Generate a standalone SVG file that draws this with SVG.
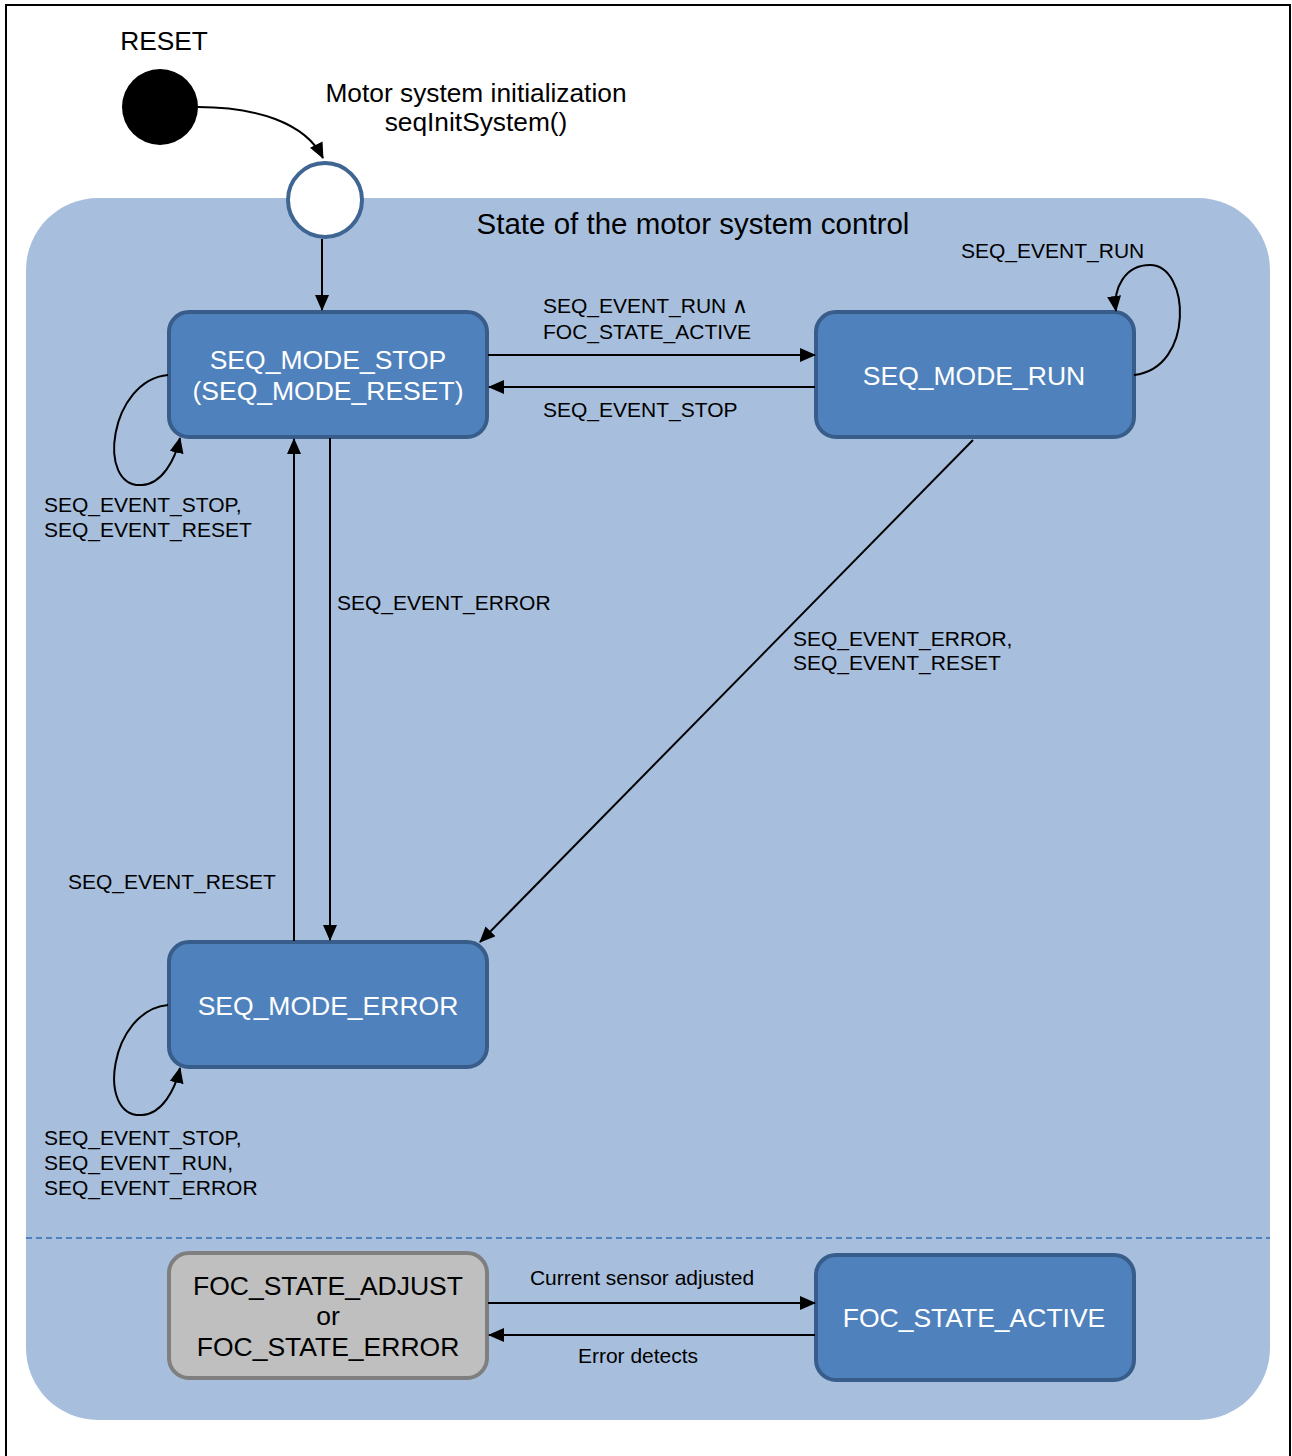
<svg xmlns="http://www.w3.org/2000/svg" width="1292" height="1456" viewBox="0 0 1292 1456">
<style>
text{font-family:"Liberation Sans",Arial,sans-serif;}
.lbl{font-size:21px;fill:#000;}
.big{font-size:26.3px;fill:#000;}
.node{fill:#4f81bd;stroke:#385d8a;stroke-width:4;}
.gnode{fill:#bfbfbf;stroke:#7f7f7f;stroke-width:4;}
.nt{font-size:26.5px;fill:#fff;text-anchor:middle;}
.gt{font-size:26.5px;fill:#000;text-anchor:middle;}
.e{fill:none;stroke:#000;stroke-width:2;marker-end:url(#ah);}
</style>
<defs>
<marker id="ah" markerUnits="userSpaceOnUse" markerWidth="16" markerHeight="14" refX="15" refY="7" orient="auto">
<path d="M0,0 L16,7 L0,14 Z" fill="#000"/>
</marker>
</defs>
<rect x="6" y="5" width="1284" height="1462" fill="#fff" stroke="#000" stroke-width="2"/>
<g id="container">
<rect x="26" y="198" width="1244" height="1222" rx="72" ry="72" fill="#a7bfdd"/>
<text x="693" y="234" text-anchor="middle" style="font-size:29.5px">State of the motor system control</text>
<line x1="26" y1="1238" x2="1270" y2="1238" stroke="#4f81bd" stroke-width="2" stroke-dasharray="6,4"/>
</g>
<g id="reset">
<circle cx="160" cy="107" r="38" fill="#000"/>
<text class="big" x="164" y="50" text-anchor="middle">RESET</text>
</g>
<g id="init">
<circle cx="325" cy="200" r="37" fill="#fff" stroke="#3f6593" stroke-width="4"/>
</g>
<g id="stop">
<rect class="node" x="169" y="312" width="318" height="125" rx="20"/>
<text class="nt" x="328" y="369">SEQ_MODE_STOP</text>
<text class="nt" x="328" y="400">(SEQ_MODE_RESET)</text>
</g>
<g id="run">
<rect class="node" x="816" y="312" width="318" height="125" rx="20"/>
<text class="nt" x="974" y="385">SEQ_MODE_RUN</text>
</g>
<g id="error">
<rect class="node" x="169" y="942" width="318" height="125" rx="20"/>
<text class="nt" x="328" y="1015">SEQ_MODE_ERROR</text>
</g>
<g id="focadjust">
<rect class="gnode" x="169" y="1253" width="318" height="125" rx="20"/>
<text class="gt" x="328" y="1295">FOC_STATE_ADJUST</text>
<text class="gt" x="328" y="1325">or</text>
<text class="gt" x="328" y="1356">FOC_STATE_ERROR</text>
</g>
<g id="focactive">
<rect class="node" x="816" y="1255" width="318" height="125" rx="20"/>
<text class="nt" x="974" y="1327">FOC_STATE_ACTIVE</text>
</g>
<g id="connectors">
<path class="e" d="M198,107 C255,107 305,122 323,158"/>
<path class="e" d="M322,239 L322,310"/>
<path class="e" d="M488,355 L815,355"/>
<path class="e" d="M815,387 L489,387"/>
<path class="e" d="M1134,375 C1195,368 1190,265 1150,265 C1125,265 1113,288 1116,311"/>
<path class="e" d="M168,375 C110,380 95,488 142,485 C162,484 175,460 180,438"/>
<path class="e" d="M168,1005 C110,1010 95,1118 142,1115 C162,1114 175,1090 180,1068"/>
<path class="e" d="M294,941 L294,439"/>
<path class="e" d="M330,438 L330,940"/>
<path class="e" d="M973,440 L480,942"/>
<path class="e" d="M488,1303 L815,1303"/>
<path class="e" d="M815,1335 L489,1335"/>
</g>
<g id="labels">
<text class="big" x="476" y="102" text-anchor="middle">Motor system initialization</text>
<text class="big" x="476" y="131" text-anchor="middle">seqInitSystem()</text>
<text class="lbl" x="543" y="313">SEQ_EVENT_RUN <tspan style="font-family:'DejaVu Sans',sans-serif;font-weight:200;font-size:22px">∧</tspan></text>
<text class="lbl" x="543" y="339">FOC_STATE_ACTIVE</text>
<text class="lbl" x="543" y="417">SEQ_EVENT_STOP</text>
<text class="lbl" x="961" y="258">SEQ_EVENT_RUN</text>
<text class="lbl" x="44" y="512">SEQ_EVENT_STOP,</text>
<text class="lbl" x="44" y="537">SEQ_EVENT_RESET</text>
<text class="lbl" x="337" y="610">SEQ_EVENT_ERROR</text>
<text class="lbl" x="793" y="646">SEQ_EVENT_ERROR,</text>
<text class="lbl" x="793" y="670">SEQ_EVENT_RESET</text>
<text class="lbl" x="68" y="889">SEQ_EVENT_RESET</text>
<text class="lbl" x="44" y="1145">SEQ_EVENT_STOP,</text>
<text class="lbl" x="44" y="1170">SEQ_EVENT_RUN,</text>
<text class="lbl" x="44" y="1195">SEQ_EVENT_ERROR</text>
<text class="lbl" x="642" y="1285" text-anchor="middle">Current sensor adjusted</text>
<text class="lbl" x="638" y="1363" text-anchor="middle">Error detects</text>
</g>
</svg>
